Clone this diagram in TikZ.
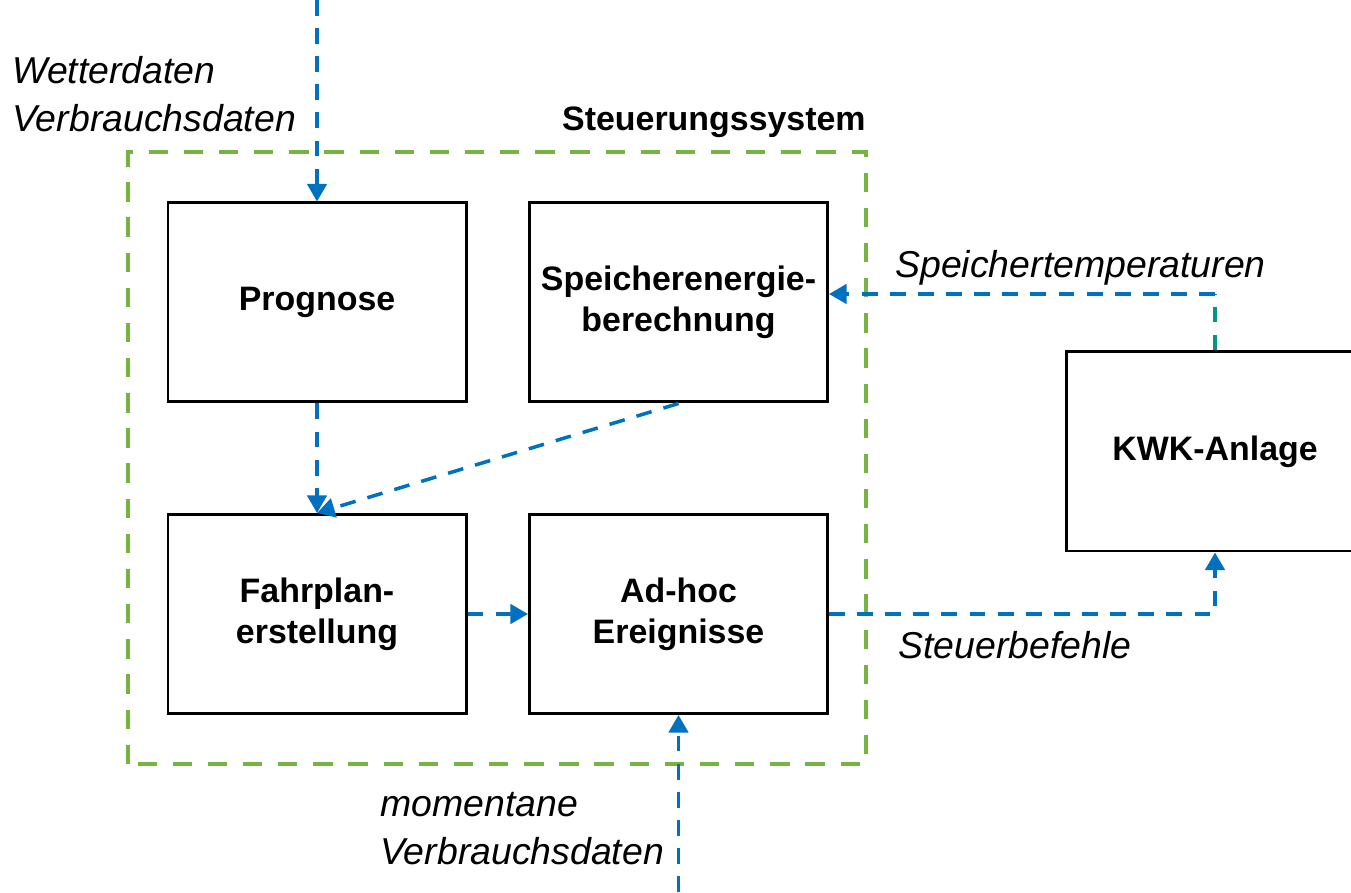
\documentclass[tikz,border=0pt]{standalone}
\usepackage{fontspec}
\setmainfont{Liberation Sans}
\usetikzlibrary{arrows.meta,calc}
\definecolor{flowblue}{RGB}{0,112,192}
\definecolor{sysgreen}{RGB}{118,180,66}
\definecolor{flowteal}{RGB}{0,150,136}
\tikzset{
  block/.style={draw=black, line width=1.7pt, minimum width=5.96cm, minimum height=3.98cm,
    align=center, font=\fontsize{19.3}{23.3}\selectfont\bfseries},
  flow/.style={flowblue, line width=2pt, dash pattern=on 9pt off 7pt,
    -{Triangle[length=10pt,width=11pt]}},
  label/.style={inner sep=0pt, align=left, font=\fontsize{21.3}{27.3}\selectfont\itshape},
}

\begin{document}
\begin{tikzpicture}
		%%%%% START %%%%%
		\useasboundingbox (0, 0) rectangle (27.02, 17.84);
		
		\draw[sysgreen, line width=2.3pt, dash pattern=on 11pt off 9pt] (2.56, 2.56) rectangle (17.32, 14.80);
		\node[inner sep=0pt, anchor=east, font=\fontsize{19.3}{23.3}\selectfont\bfseries] (sys) at (17.32, 15.40) {Steuerungssystem};
		
		\node[block] (prognose) at (6.34, 11.79) {Prognose};
		\node[block] (speicher) at (13.57, 11.79) {Speicherenergie-\\berechnung};
		\node[block] (fahrplan) at (6.34, 5.56) {Fahrplan-\\erstellung};
		\node[block] (adhoc) at (13.57, 5.56) {Ad-hoc\\Ereignisse};
		\node[block] (kwk) at (24.30, 8.81) {KWK-Anlage};
		
		\coordinate (wetter) at (6.34, 17.84);
		\coordinate (momentan) at (13.57, 0);
		\coordinate (tempin) at ($(speicher.east)+(0, 0.17)$);
		
		\draw[flow] (wetter) -- (prognose.north);
		\draw[flow] (prognose.south) -- (fahrplan.north);
		\draw[flow] (speicher.south) -- (fahrplan.north);
		\draw[flow] (fahrplan.east) -- (adhoc.west);
		\draw[flow] (adhoc.east) -| (kwk.south);
		\draw[flowteal, line width=2pt, dash pattern=on 9pt off 7pt] (kwk.north) -- (kwk.north |- tempin);
		\draw[flow] (kwk.north |- tempin) -- (tempin);
		\draw[flow] (momentan) -- (adhoc.south);
		
		\node[label, anchor=west] (wetterlbl) at (0.24, 15.96) {Wetterdaten\\Verbrauchsdaten};
		\node[label, anchor=west] (templbl) at (17.90, 12.48) {Speichertemperaturen};
		\node[label, anchor=west] (befehllbl) at (17.96, 4.94) {Steuerbefehle};
		\node[label, anchor=west] (momentlbl) at (7.60, 1.26) {momentane\\Verbrauchsdaten};
		%%%%% END %%%%%
	\end{tikzpicture}
\end{document}
